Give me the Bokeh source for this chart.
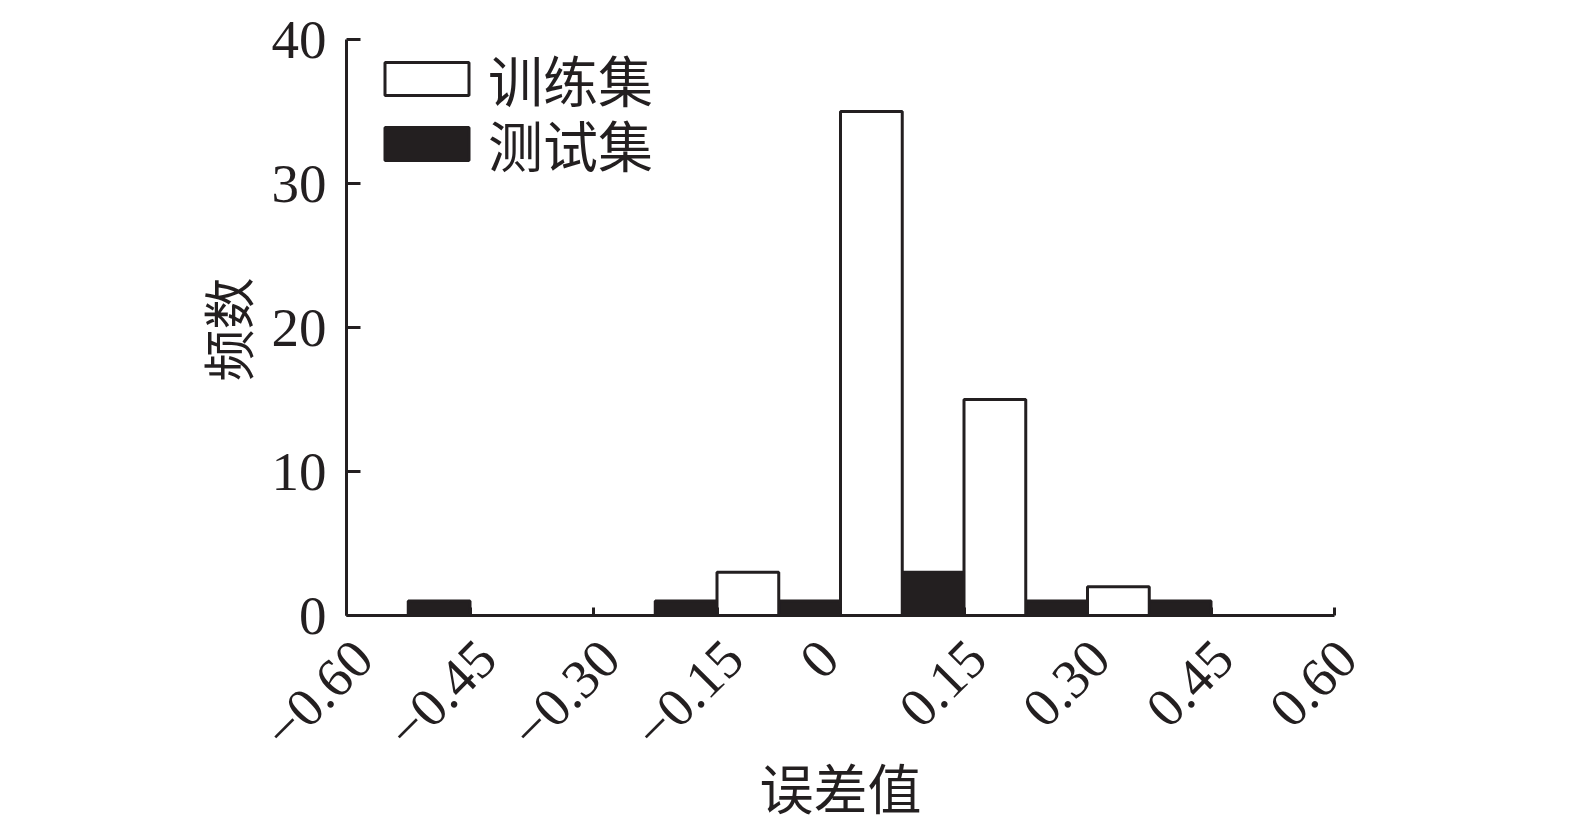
import math
from bokeh.plotting import figure
from bokeh.models import (ColumnDataSource, Range1d, FixedTicker, CustomJSTickFormatter,
                          Legend, LegendItem)
from bokeh.core.properties import value
from bokeh.embed import file_html
from bokeh.resources import INLINE

# ---- data ----
bin_centers = [-0.60, -0.45, -0.30, -0.15, 0.0, 0.15, 0.30, 0.45, 0.60]
train_counts = [0, 0, 0, 3, 35, 15, 2, 0, 0]
test_counts = [0, 1, 0, 1, 1, 3, 1, 1, 0]
bar_width = 0.075
x_ticks = [-0.60, -0.45, -0.30, -0.15, 0.0, 0.15, 0.30, 0.45, 0.60]
x_tick_labels = ["\u22120.60", "\u22120.45", "\u22120.30", "\u22120.15", "0",
                 "0.15", "0.30", "0.45", "0.60"]
y_ticks = [0, 10, 20, 30, 40]
series_names = ["训练集", "测试集"]
x_title = "误差值"
y_title = "频数"

INK = "#231f20"
SERIF = "Liberation Serif"
CJK = "Noto Sans CJK SC"
TICK_FS = 55

# axes box: x in [-0.6, 0.6] -> 988 px, y in [0, 40] -> 576 px, top at 39 px.
# The frame is extended around it so the rotated tick labels fit inside it.
PX_X = 988 / 1.2
PX_Y = 576 / 40
EXT_X = 76
TOP_PAD = 39
FRAME_H = 827
X_PAD = EXT_X / PX_X
Y_MAX = 40 + TOP_PAD / PX_Y
Y_MIN = -(FRAME_H - 576 - TOP_PAD) / PX_Y

p = figure(frame_width=988 + 2 * EXT_X, frame_height=FRAME_H, output_backend="svg",
           toolbar_location=None,
           x_range=Range1d(-0.6 - X_PAD, 0.6 + X_PAD), y_range=Range1d(Y_MIN, Y_MAX),
           min_border_left=346 - EXT_X, min_border_right=150, min_border_top=0,
           min_border_bottom=0)
p.outline_line_color = None
p.grid.visible = False
p.background_fill_color = "white"
p.border_fill_color = "white"

# only non-empty bins are drawn as bars
test_src = ColumnDataSource(dict(
    x=[c - bar_width / 2 for c, v in zip(bin_centers, test_counts) if v > 0],
    top=[v for v in test_counts if v > 0]))
train_src = ColumnDataSource(dict(
    x=[c + bar_width / 2 for c, v in zip(bin_centers, train_counts) if v > 0],
    top=[v for v in train_counts if v > 0]))

r_test = p.vbar(x="x", top="top", width=bar_width, source=test_src,
                fill_color=INK, line_color=INK, line_width=3)
r_train = p.vbar(x="x", top="top", width=bar_width, source=train_src,
                 fill_color="white", line_color=INK, line_width=3)

# axes
for ax in (p.xaxis[0], p.yaxis[0]):
    ax.axis_line_color = INK
    ax.axis_line_width = 3
    ax.major_tick_line_color = INK
    ax.major_tick_line_width = 3
    ax.major_tick_out = 0
    ax.minor_tick_line_color = None
    ax.major_label_text_font = SERIF
    ax.major_label_text_font_size = f"{TICK_FS}px"
    ax.major_label_text_color = INK
    ax.axis_label_text_font = CJK
    ax.axis_label_text_font_size = "54px"
    ax.axis_label_text_font_style = "normal"
    ax.axis_label_text_color = INK

p.xaxis.ticker = FixedTicker(ticks=x_ticks)
p.yaxis.ticker = FixedTicker(ticks=y_ticks)
p.xaxis.fixed_location = 0
p.yaxis.fixed_location = -0.6
p.xaxis.bounds = (-0.6, 0.6)
p.yaxis.bounds = (0, 40)
p.xaxis.major_tick_in = 8
p.yaxis.major_tick_in = 14
p.xaxis.formatter = CustomJSTickFormatter(code="return '';")
p.yaxis.formatter = CustomJSTickFormatter(code="return tick.toFixed(0);")
p.xaxis.axis_label = x_title
p.xaxis.major_label_standoff = 0
p.yaxis.major_label_standoff = 20
p.xaxis.axis_label_standoff = 131

# y title as a left-side title, placed beside the 0..40 axis
p.title.text = y_title
p.title_location = "left"
p.title.align = "right"
p.title.offset = 277
p.title.standoff = 13
p.title.text_font = CJK
p.title.text_font_size = "52px"
p.title.text_font_style = "normal"
p.title.text_color = INK

# rotated x tick labels (bbox centred slightly left of tick, tops aligned)
adv = {".": 0.25, "\u2212": 0.564}
def text_w(s):
    return TICK_FS * sum(adv.get(ch, 0.5) for ch in s)

lab_src = ColumnDataSource(dict(
    x=x_ticks, y=[0] * len(x_ticks), text=x_tick_labels,
    xoff=[-28 if s.startswith("\u2212") else -21 for s in x_tick_labels],
    yoff=[34 + 0.354 * text_w(s) for s in x_tick_labels]))
p.text(x="x", y="y", text="text", source=lab_src, x_offset="xoff", y_offset="yoff",
       angle=math.pi / 4, text_align="center", text_baseline="middle",
       text_font=value(SERIF), text_font_size=f"{TICK_FS}px", text_color=INK)

def make_legend(name, rend, loc):
    lg = Legend(items=[LegendItem(label=name, renderers=[rend])], location=loc)
    lg.border_line_color = None
    lg.background_fill_alpha = 0
    lg.padding = 0
    lg.margin = 0
    lg.glyph_width = 105
    lg.glyph_height = 41
    lg.label_standoff = 9
    lg.label_text_font = CJK
    lg.label_text_font_size = "55px"
    lg.label_text_color = INK
    return lg

p.add_layout(make_legend(series_names[0], r_train, (28 + EXT_X, 709)))
p.add_layout(make_legend(series_names[1], r_test, (28 + EXT_X, 644)))

open("out.html", "w").write(file_html(p, INLINE))
